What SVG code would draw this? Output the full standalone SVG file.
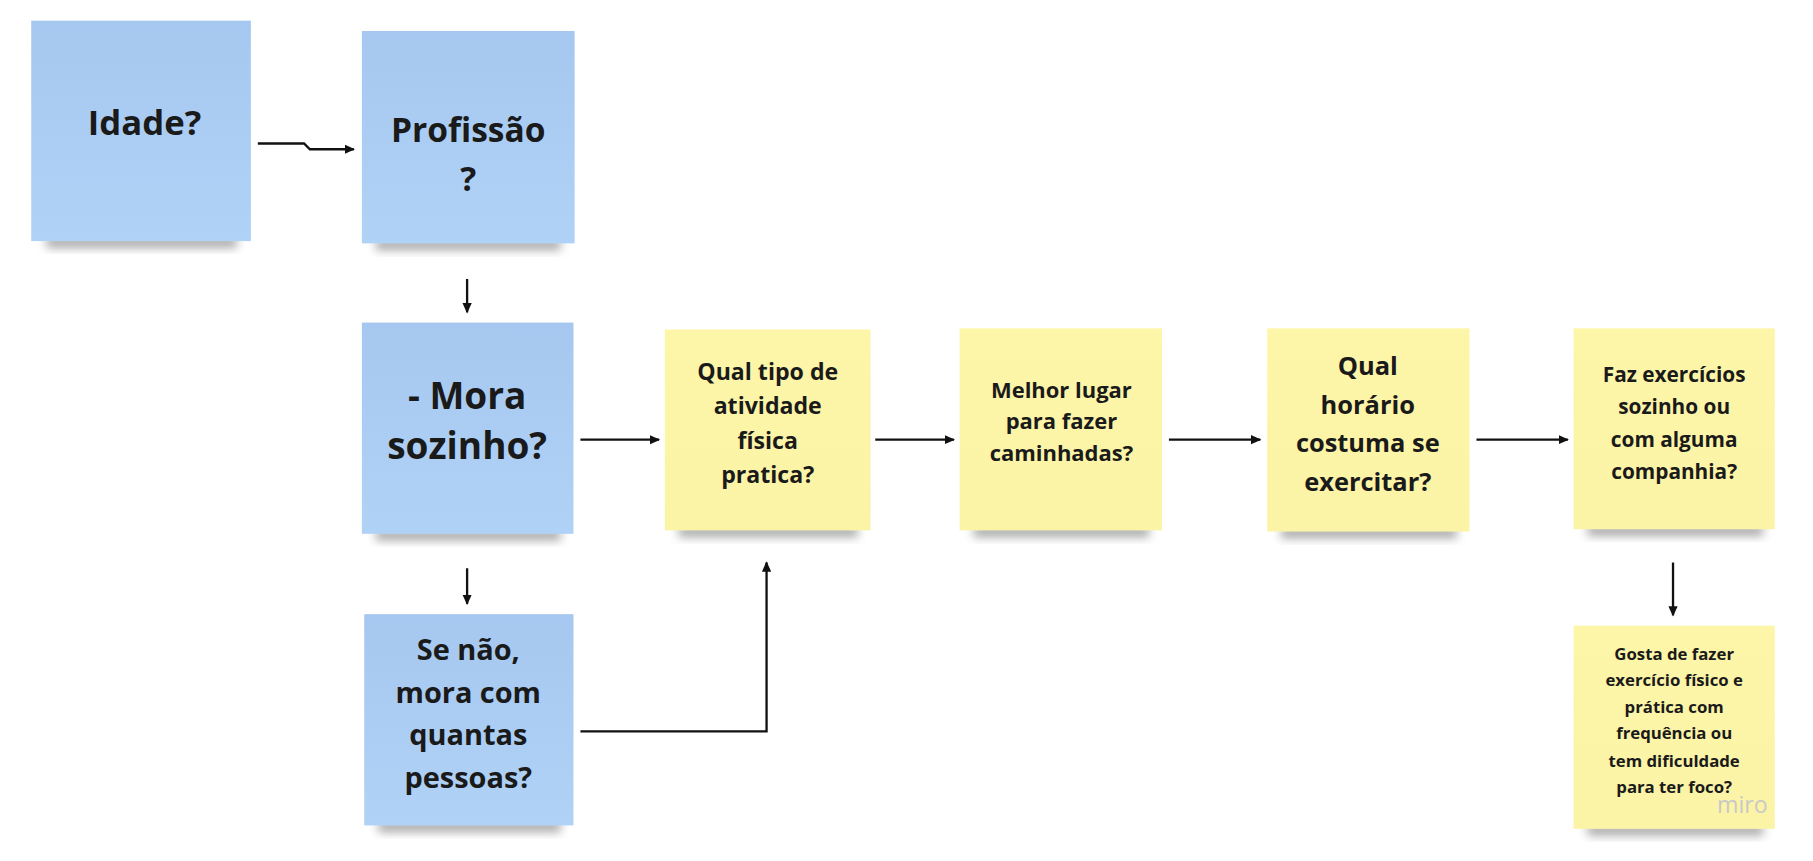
<svg xmlns="http://www.w3.org/2000/svg" width="1813" height="861" viewBox="0 0 1813 861">
<defs>
<marker id="ah" markerWidth="10" markerHeight="10" refX="8" refY="5" orient="auto" markerUnits="userSpaceOnUse"><path d="M0,1 L9,5 L0,9 Z" fill="#111"/></marker>
<linearGradient id="bl" x1="0" y1="0" x2="0" y2="1"><stop offset="0" stop-color="#a6c8f0"/><stop offset="1" stop-color="#b0d2f6"/></linearGradient>
<linearGradient id="yl" x1="0" y1="0" x2="0" y2="1"><stop offset="0" stop-color="#fdf5a8"/><stop offset="1" stop-color="#fbf3a6"/></linearGradient>
<filter id="sh" x="-20%" y="-50%" width="140%" height="200%"><feGaussianBlur stdDeviation="4"/></filter>
</defs>
<style>
.b{fill:url(#bl)} .y{fill:url(#yl)} .s{fill:#666;opacity:.55;filter:url(#sh)}
text{font-family:"Open Sans","Noto Sans",sans-serif;font-weight:bold;fill:#1a1a1a;text-anchor:middle}
.c{fill:none;stroke:#111;stroke-width:2}
</style>
<rect width="1813" height="861" fill="#fff"/>
<g transform="scale(1.1562 1.148)">
<g id="n1"><rect class="s" x="40" y="206" width="165" height="10"/><rect class="b" x="27" y="18" width="190" height="192"/><text x="125" y="118" font-size="30">Idade?</text></g>
<g id="n2"><rect class="s" x="325" y="208" width="160" height="10"/><rect class="b" x="313" y="27" width="184" height="185"/><text x="405" y="124" font-size="29">Profissão</text><text x="405" y="166" font-size="29">?</text></g>
<g id="n3"><rect class="s" x="325" y="461" width="160" height="10"/><rect class="b" x="313" y="281" width="183" height="184"/><text x="404" y="356" font-size="32">- Mora</text><text x="404" y="400" font-size="32">sozinho?</text></g>
<g id="n4"><rect class="s" x="327" y="715" width="158" height="10"/><rect class="b" x="315" y="535" width="181" height="184"/><text x="405" y="575" font-size="25">Se não,</text><text x="405" y="612" font-size="25">mora com</text><text x="405" y="649" font-size="25">quantas</text><text x="405" y="686" font-size="25">pessoas?</text></g>
<g id="n5"><rect class="s" x="587" y="458" width="155" height="10"/><rect class="y" x="575" y="287" width="178" height="175"/><text x="664" y="331" font-size="20">Qual tipo de</text><text x="664" y="361" font-size="20">atividade</text><text x="664" y="391" font-size="20">física</text><text x="664" y="421" font-size="20">pratica?</text></g>
<g id="n6"><rect class="s" x="842" y="458" width="152" height="10"/><rect class="y" x="830" y="286" width="175" height="176"/><text x="918" y="347" font-size="19">Melhor lugar</text><text x="918" y="374" font-size="19">para fazer</text><text x="918" y="402" font-size="19">caminhadas?</text></g>
<g id="n7"><rect class="s" x="1108" y="459" width="152" height="10"/><rect class="y" x="1096" y="286" width="175" height="177"/><text x="1183" y="327" font-size="22">Qual</text><text x="1183" y="361" font-size="22">horário</text><text x="1183" y="394" font-size="22">costuma se</text><text x="1183" y="428" font-size="22">exercitar?</text></g>
<g id="n8"><rect class="s" x="1373" y="457" width="152" height="10"/><rect class="y" x="1361" y="286" width="174" height="175"/><text x="1448" y="333" font-size="18">Faz exercícios</text><text x="1448" y="361" font-size="18">sozinho ou</text><text x="1448" y="389" font-size="18">com alguma</text><text x="1448" y="417" font-size="18">companhia?</text></g>
<g id="n9"><rect class="s" x="1373" y="718" width="152" height="10"/><rect class="y" x="1361" y="545" width="174" height="177"/><text x="1448" y="575" font-size="14.5">Gosta de fazer</text><text x="1448" y="598" font-size="14.5">exercício físico e</text><text x="1448" y="621" font-size="14.5">prática com</text><text x="1448" y="644" font-size="14.5">frequência ou</text><text x="1448" y="668" font-size="14.5">tem dificuldade</text><text x="1448" y="691" font-size="14.5">para ter foco?</text></g>
<text x="1507" y="708" font-size="20" style="fill:#c9c9c9;font-weight:normal">miro</text>
<g id="connectors">
<path class="c" d="M223,125 H263 L268,130 H306" marker-end="url(#ah)"/>
<path class="c" d="M404,243 V272" marker-end="url(#ah)"/>
<path class="c" d="M502,383 H570" marker-end="url(#ah)"/>
<path class="c" d="M757,383 H825" marker-end="url(#ah)"/>
<path class="c" d="M1011,383 H1090" marker-end="url(#ah)"/>
<path class="c" d="M1277,383 H1356" marker-end="url(#ah)"/>
<path class="c" d="M404,495 V526" marker-end="url(#ah)"/>
<path class="c" d="M502,637 H663 V490" marker-end="url(#ah)"/>
<path class="c" d="M1447,490 V536" marker-end="url(#ah)"/>
</g>
</g>
</svg>
